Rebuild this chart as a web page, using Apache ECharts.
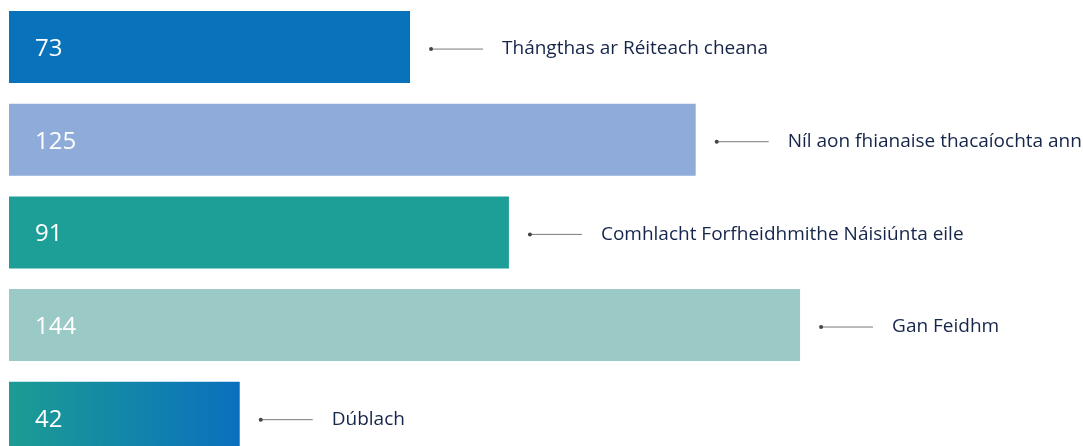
<!DOCTYPE html>
<html>
<head>
<meta charset="utf-8">
<script src="https://cdn.jsdelivr.net/npm/echarts@6/dist/echarts.min.js"></script>
<style>
  html, body { margin: 0; padding: 0; background: #fff; overflow: hidden; }
  /* chart taller than the window: the last bar is cut at the bottom edge */
  #chart { width: 1083px; height: 464px; }
</style>
</head>
<body>
<div id="chart"></div>
<script>
const categories = [
  'Thángthas ar Réiteach cheana',
  'Níl aon fhianaise thacaíochta ann',
  'Comhlacht Forfheidhmithe Náisiúnta eile',
  'Gan Feidhm',
  'Dúblach'
]
const values = [73, 125, 91, 144, 42]
const barColors = ['#0873bb', '#8eabda', '#1d9e96', '#9bc9c6', null]

const chart = echarts.init(document.getElementById('chart'))

const barData = values.map((value, index) => ({
  value,
  itemStyle: {
    color: barColors[index] || new echarts.graphic.LinearGradient(0, 0, 1, 0, [
      { offset: 0, color: '#1c9c93' },
      { offset: 1, color: '#0a70be' }
    ])
  }
}))

const option = {
  animation: false,
  grid: {
    left: 9,
    right: 0,
    top: 0.75,
    bottom: 0,
    containLabel: false
  },
  xAxis: {
    type: 'value',
    min: 0,
    max: 195.5,
    show: false
  },
  yAxis: {
    type: 'category',
    data: categories,
    inverse: true,
    show: false
  },
  series: [
    {
      type: 'bar',
      barWidth: 72,
      data: barData,
      label: {
        show: true,
        position: 'insideLeft',
        distance: 26,
        offset: [0, 2],
        color: '#fff',
        fontSize: 24,
        fontFamily: 'Open Sans',
        fontWeight: 'normal'
      }
    },
    {
      // connector line + dot + category name
      type: 'custom',
      data: values.map((v, i) => [v, i]),
      encode: { x: 0, y: 1 },
      renderItem: (params, api) => {
        const pt = api.coord([api.value(0), api.value(1)])
        const x = pt[0]
        const y = pt[1] + 2
        return {
          type: 'group',
          children: [
            {
              type: 'line',
              shape: { x1: x + 21, y1: y, x2: x + 73, y2: y },
              style: { stroke: '#7a7a7a', lineWidth: 1 }
            },
            {
              type: 'circle',
              shape: { cx: x + 21, cy: y, r: 2 },
              style: { fill: '#444' }
            },
            {
              type: 'text',
              x: x + 92,
              y: y,
              style: {
                text: categories[params.dataIndex],
                fill: '#16254a',
                fontSize: 19,
                fontFamily: 'Open Sans',
                verticalAlign: 'middle',
                align: 'left'
              }
            }
          ]
        }
      }
    }
  ]
}

chart.setOption(option)
</script>
</body>
</html>
